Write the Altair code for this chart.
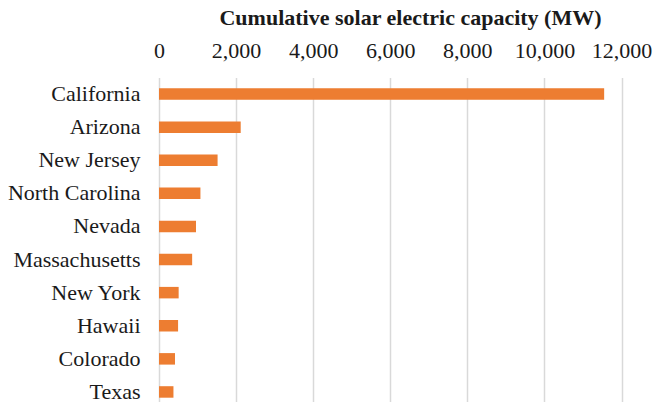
import altair as alt
import pandas as pd

# Top ten states by cumulative installed solar capacity
states = [
    "California", "Arizona", "New Jersey", "North Carolina", "Nevada",
    "Massachusetts", "New York", "Hawaii", "Colorado", "Texas",
]
capacity_mw = [11550, 2120, 1520, 1075, 960, 860, 510, 495, 415, 375]

df = pd.DataFrame({"state": states, "capacity": capacity_mw})

SERIF = "Liberation Serif"
INK = "#1a1a1a"

bars = (
    alt.Chart(df)
    .mark_bar(color="#ED7D31", size=11.5)
    .encode(
        x=alt.X(
            "capacity:Q",
            scale=alt.Scale(domain=[0, 12000], nice=False),
            axis=alt.Axis(
                orient="top",
                title="Cumulative solar electric capacity (MW)",
                values=[0, 2000, 4000, 6000, 8000, 10000, 12000],
                format=",d",
                ticks=False,
                domain=False,
                grid=True,
                gridColor="#D9D9D9",
                gridWidth=1.5,
                labelFont=SERIF,
                labelFontSize=22,
                labelColor=INK,
                labelPadding=15,
                labelFlush=False,
                titleFont=SERIF,
                titleFontSize=22,
                titleFontWeight="bold",
                titleColor=INK,
                titleX=251,
                titleY=-53,
                titleBaseline="alphabetic",
            ),
        ),
        y=alt.Y(
            "state:N",
            sort=states,
            scale=alt.Scale(paddingInner=0.65, paddingOuter=0.325),
            axis=alt.Axis(
                title=None,
                ticks=False,
                domain=False,
                labelFont=SERIF,
                labelFontSize=22,
                labelColor=INK,
                labelPadding=19,
            ),
        ),
    )
    .properties(width=462.5, height=331)
)

chart = (
    bars.properties(
        autosize=alt.AutoSizeParams(type="none"),
        padding={"left": 159, "top": 77.5, "right": 45, "bottom": 0},
        background="white",
    )
    .configure_view(stroke=None)
)

chart.save("out.html", embed_options={"renderer": "svg", "actions": False})
